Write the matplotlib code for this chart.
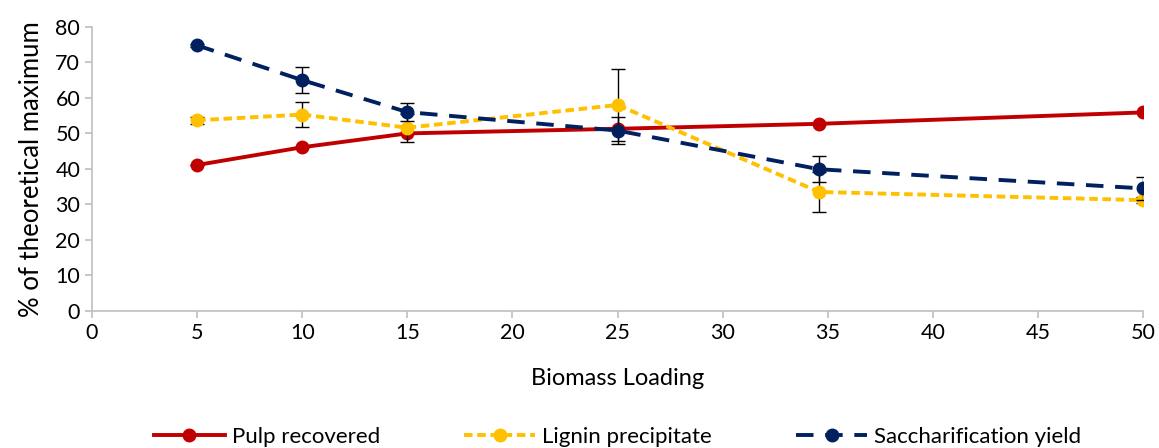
import numpy as np
import matplotlib.pyplot as plt
from matplotlib.lines import Line2D

plt.rcParams['font.family'] = ['Lato', 'DejaVu Sans']

loading = [5, 10, 15, 25, 34.6, 50]

pulp = [41.1, 46.1, 50.0, 51.3, 52.7, 55.9]
pulp_err = [0, 0, 0, 0, 0, 0]

lignin = [53.7, 55.3, 51.6, 58.0, 33.5, 31.2]
lignin_err = [1.0, 3.6, 4.0, 10.2, 5.6, 0.8]

sacch = [74.8, 65.0, 56.0, 50.8, 39.9, 34.5]
sacch_err = [0.5, 3.6, 2.5, 3.9, 3.7, 3.3]

red = '#C00000'
yellow = '#FFC000'
navy = '#002060'
grey = '#BFBFBF'

fig, ax = plt.subplots(figsize=(11.59, 4.48), dpi=100)
fig.subplots_adjust(left=0.0794, right=0.9862, top=0.94, bottom=0.306)

ls_y = (0, (2.2, 1.2))
ls_b = (0, (4.5, 3))

ax.errorbar(loading, pulp, yerr=pulp_err, color=red, lw=2.8, marker='o', ms=9,
            ecolor='black', elinewidth=1, capsize=5, zorder=3)
ax.errorbar(loading, lignin, yerr=lignin_err, color=yellow, lw=2.8, marker='o', ms=9,
            ls=ls_y, ecolor='black', elinewidth=1, capsize=5, zorder=4)
ax.errorbar(loading, sacch, yerr=sacch_err, color=navy, lw=2.8, marker='o', ms=9,
            ls=ls_b, ecolor='black', elinewidth=1, capsize=5, zorder=5)

ax.set_xlim(0, 50)
ax.set_ylim(0, 80)
ax.set_xticks(np.arange(0, 51, 5))
ax.set_yticks(np.arange(0, 81, 10))
for s in ['top', 'right']:
    ax.spines[s].set_visible(False)
for s in ['left', 'bottom']:
    ax.spines[s].set_color(grey)
    ax.spines[s].set_linewidth(1.2)
ax.tick_params(colors=grey, labelcolor='black', labelsize=15.5, length=5, width=1.2)

ax.set_xlabel('Biomass Loading', fontsize=17, labelpad=18)
ax.set_ylabel('% of theoretical maximum', fontsize=18.5, labelpad=8)

handles = [
    Line2D([], [], color=red, lw=2.8, marker='o', ms=9),
    Line2D([], [], color=yellow, lw=2.8, marker='o', ms=9, ls=ls_y),
    Line2D([], [], color=navy, lw=2.8, marker='o', ms=9, ls=ls_b),
]
labels = ['Pulp recovered', 'Lignin precipitate', 'Saccharification yield']
ax.legend(handles, labels, loc='upper center', bbox_to_anchor=(0.5, -0.40), ncol=3,
          frameon=False, fontsize=16, handlelength=3.2, columnspacing=3.8,
          handletextpad=0.3, borderaxespad=0, borderpad=0.1)

plt.savefig('out.png', dpi=100)
